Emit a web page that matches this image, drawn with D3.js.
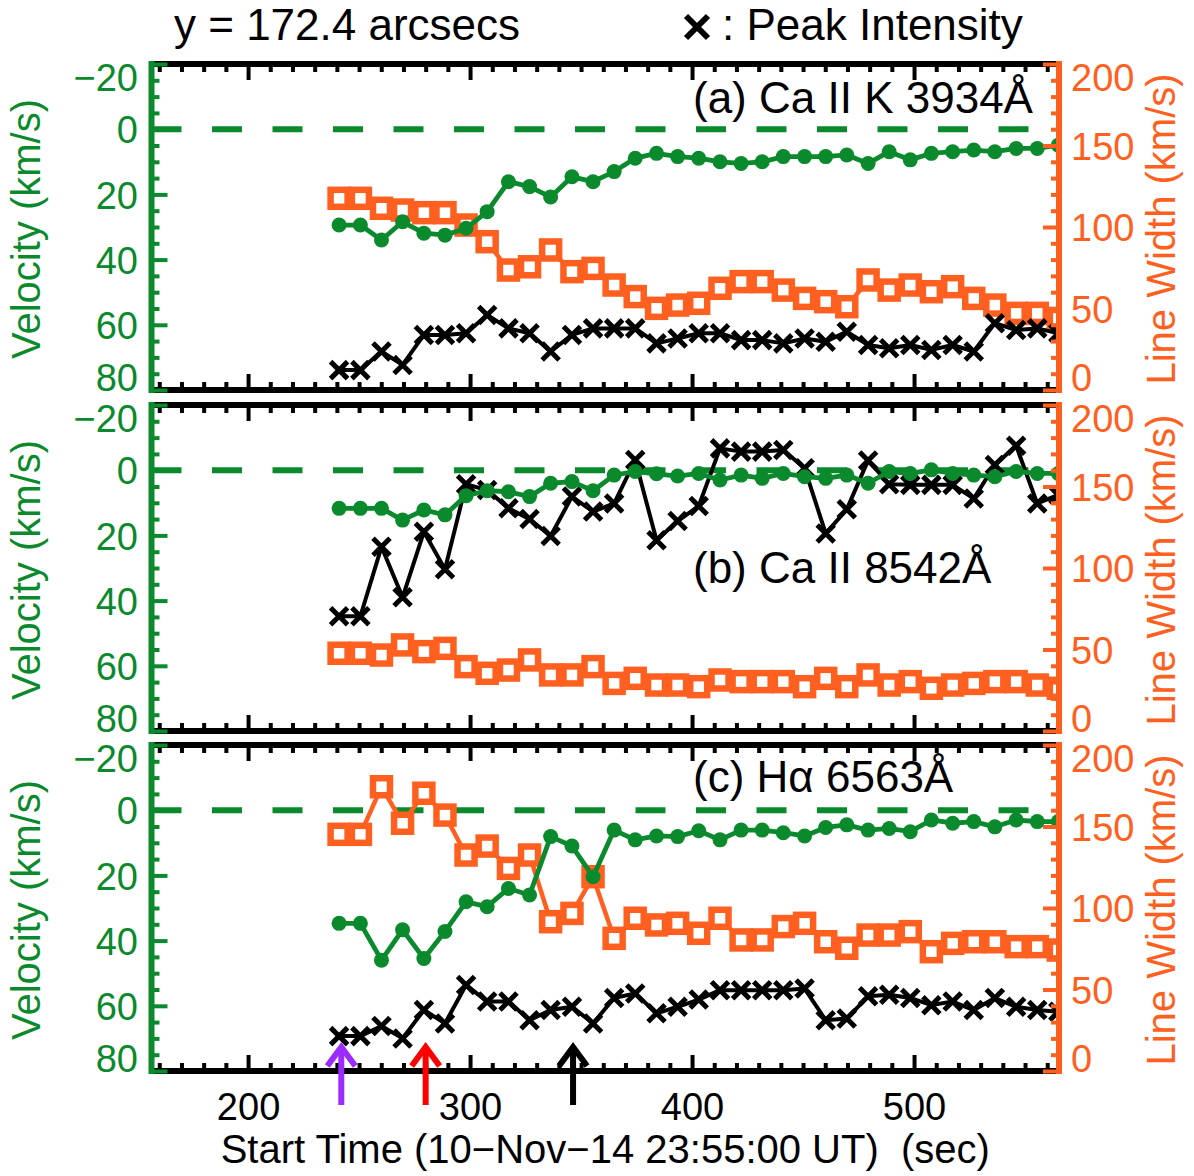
<!DOCTYPE html>
<html>
<head>
<meta charset="utf-8">
<script src="https://cdn.jsdelivr.net/npm/d3@7"></script>
<style>
  html, body { margin: 0; padding: 0; background: #fff; }
  svg { display: block; font-family: "Liberation Sans", Arial, Helvetica, sans-serif; }
</style>
</head>
<body>
<svg id="fig" width="1194" height="1176"></svg>
<script>
// Observation times (s after 10-Nov-14 23:55:00 UT)
const times = [241.0, 250.6, 260.1, 269.6, 279.2, 288.7, 298.2, 307.7, 317.3, 326.8,
               336.3, 345.9, 355.4, 364.9, 374.4, 384.0, 393.5, 403.0, 412.6, 422.1,
               431.6, 441.1, 450.7, 460.2, 469.7, 479.3, 488.8, 498.3, 507.8, 517.4,
               526.9, 536.4, 546.0, 555.5, 565.0];

// (a) Ca II K 3934
const velA   = [29.4, 29.4, 34.0, 28.4, 31.9, 32.5, 30.4, 25.3, 16.1, 17.6, 20.8, 14.6, 16.1, 13.0, 8.9, 7.4, 8.4, 8.9, 10.0, 10.5,
                10.0, 8.4, 8.4, 8.4, 7.9, 10.5, 6.9, 9.4, 7.4, 6.9, 6.4, 6.9, 5.9, 5.9, 4.9];
const widthA = [117.6, 117.6, 111.5, 110.4, 108.8, 108.8, 101.2, 91.0, 73.6, 75.6, 85.9, 72.6, 74.6, 64.4, 57.3, 50.1, 52.1, 53.2, 62.4, 66.5,
                66.5, 61.3, 56.2, 54.2, 51.1, 67.5, 61.3, 64.4, 60.3, 63.4, 56.2, 52.1, 47.0, 47.0, 43.9];
// peak intensity, normalised onto the velocity frame of each panel
const peakA  = [73.9, 73.9, 68.2, 72.3, 63.1, 63.1, 62.6, 57.0, 61.1, 62.6, 68.2, 63.1, 61.1, 61.1, 61.1, 65.7, 64.2, 62.6, 62.6, 64.7,
                64.7, 65.7, 64.2, 65.2, 62.1, 66.2, 67.2, 66.2, 67.7, 66.2, 68.2, 59.5, 61.6, 61.1, 62.6];

// (b) Ca II 8542
const velB   = [11.7, 11.7, 11.7, 15.3, 12.2, 13.7, 7.8, 6.3, 6.6, 8.1, 4.0, 3.5, 6.3, 1.5, 0.4, 1.1, 1.8, 1.0, 3.0, 1.5,
                2.5, 1.0, 2.0, 2.5, 1.5, 4.0, 0.4, 1.0, -0.1, 1.0, 1.5, 2.0, 0.4, 1.0, 1.0];
const widthB = [47.7, 47.7, 46.6, 52.8, 48.7, 50.7, 39.5, 35.4, 37.4, 43.6, 34.4, 34.4, 39.5, 29.2, 32.3, 28.2, 28.2, 27.2, 31.3, 30.3,
                30.3, 30.3, 27.2, 32.3, 27.2, 34.4, 28.2, 30.3, 26.2, 28.2, 29.2, 30.3, 30.3, 28.2, 26.2];
const peakB  = [44.8, 44.8, 23.5, 39.0, 18.9, 30.4, 4.3, 6.1, 11.7, 15.0, 20.2, 8.1, 12.7, 10.2, -3.1, 21.5, 15.6, 11.0, -6.7, -5.7,
                -5.7, -6.2, -0.6, 19.4, 12.0, -3.0, 4.3, 4.5, 4.5, 4.5, 8.7, -1.6, -7.5, 10.2, 7.6];

// (c) H-alpha 6563
const velC   = [34.7, 34.7, 46.0, 36.7, 45.5, 37.2, 28.1, 29.6, 24.0, 26.0, 8.1, 11.0, 20.4, 6.1, 9.1, 7.9, 8.1, 6.3, 9.1, 6.1,
                6.1, 6.9, 7.9, 5.3, 4.5, 6.1, 5.6, 6.6, 3.0, 4.0, 3.5, 5.1, 3.0, 3.5, 3.5];
const widthC = [145.2, 145.2, 174.4, 152.0, 170.4, 157.0, 132.5, 138.0, 124.3, 132.5, 91.6, 96.7, 119.2, 81.4, 93.7, 89.6, 90.6, 84.5, 93.7, 80.4,
                80.4, 88.6, 90.6, 79.3, 75.3, 83.4, 83.4, 85.5, 73.2, 78.3, 79.3, 79.3, 76.3, 76.3, 74.2];
const peakC  = [69.3, 69.3, 66.2, 70.0, 61.3, 65.4, 53.6, 58.7, 58.7, 64.4, 61.3, 60.3, 65.4, 57.6, 56.2, 62.3, 60.3, 58.1, 55.2, 55.2,
                55.2, 55.2, 54.7, 64.4, 63.9, 57.1, 56.6, 57.6, 59.8, 58.7, 61.3, 57.6, 60.3, 61.3, 61.8];

const panelLabels = ["(a) Ca II K 3934Å", "(b) Ca II 8542Å", "(c) Hα 6563Å"];

// Axis ticks
const xTicks = [200, 300, 400, 500];
const velTicks = [-20, 0, 20, 40, 60, 80];
const widthTicks = [0, 50, 100, 150, 200];

// Marked instants in panel (c)
const arrowTimes = [242, 280, 346.4];
const arrowColors = ["#9b2cff", "#ff0000", "#000000"];

// ---------------------------------------------------------------------------
const GREEN = "#0a8a2c", ORANGE = "#ff6020";
const plotLeft = 151.5, plotRight = 1059;
const panelTops = [64, 405, 745], panelH = 326;
const AXW = 6, TICKW = 4;

const svg = d3.select("#fig");
const x = d3.scaleLinear().domain([156.5, 565.3]).range([plotLeft, plotRight]);

const panels = [
  { vel: velA, width: widthA, peak: peakA },
  { vel: velB, width: widthB, peak: peakB },
  { vel: velC, width: widthC, peak: peakC }
];

const xMinor = d3.range(160, 561, 10).filter(v => v % 100 !== 0);
const velMinor = d3.range(-15, 80, 5).filter(v => v % 20 !== 0);
const widthMinor = d3.range(10, 200, 10).filter(v => v % 50 !== 0);

const minus = d => (d < 0 ? "\u2212" + Math.abs(d) : String(d));
const crossPath = (cx, cy, s) =>
  `M${cx - s},${cy - s}L${cx + s},${cy + s}M${cx - s},${cy + s}L${cx + s},${cy - s}`;

function styleTicks(sel, color) {
  sel.select(".domain").remove();
  sel.selectAll(".tick line").attr("stroke", color).attr("stroke-width", TICKW);
}

panels.forEach((p, i) => {
  const top = panelTops[i], bottom = top + panelH;
  const yV = d3.scaleLinear().domain([-20, 80]).range([top, bottom]);
  const yW = d3.scaleLinear().domain([0, 200]).range([bottom, top]);
  const g = svg.append("g");

  const clipId = "clip" + i;
  svg.append("clipPath").attr("id", clipId)
    .append("rect").attr("x", plotLeft).attr("y", top)
    .attr("width", plotRight - plotLeft).attr("height", panelH);

  // zero-velocity reference
  g.append("line")
    .attr("x1", plotLeft).attr("x2", plotRight)
    .attr("y1", yV(0)).attr("y2", yV(0))
    .attr("stroke", GREEN).attr("stroke-width", 6)
    .attr("stroke-dasharray", "30 30.5");

  // panel label
  g.append("text")
    .attr("x", 693).attr("y", [113, 583, 792][i])
    .attr("font-size", 44).attr("fill", "#000")
    .text(panelLabels[i]);

  const data = g.append("g").attr("clip-path", `url(#${clipId})`);

  // line width (orange squares)
  const wPts = times.map((t, k) => [x(t), yW(p.width[k])]);
  data.append("path").attr("d", d3.line()(wPts))
    .attr("fill", "none").attr("stroke", ORANGE).attr("stroke-width", 4.5)
    .attr("stroke-linejoin", "round");
  data.selectAll("rect.sq").data(wPts).join("rect").attr("class", "sq")
    .attr("x", d => d[0] - 8.5).attr("y", d => d[1] - 8.5)
    .attr("width", 17).attr("height", 17)
    .attr("fill", "#fff").attr("stroke", ORANGE).attr("stroke-width", 6.5);

  // peak intensity (black crosses)
  const pPts = times.map((t, k) => [x(t), yV(p.peak[k])]);
  data.append("path").attr("d", d3.line()(pPts))
    .attr("fill", "none").attr("stroke", "#000").attr("stroke-width", 4)
    .attr("stroke-linejoin", "round");
  data.selectAll("path.cr").data(pPts).join("path").attr("class", "cr")
    .attr("d", d => crossPath(d[0], d[1], 8.5))
    .attr("stroke", "#000").attr("stroke-width", 5).attr("fill", "none");

  // Doppler velocity (green dots)
  const vPts = times.map((t, k) => [x(t), yV(p.vel[k])]);
  data.append("path").attr("d", d3.line()(vPts))
    .attr("fill", "none").attr("stroke", GREEN).attr("stroke-width", 4.8)
    .attr("stroke-linejoin", "round");
  data.selectAll("circle").data(vPts).join("circle")
    .attr("cx", d => d[0]).attr("cy", d => d[1]).attr("r", 7.5)
    .attr("fill", GREEN);

  // --- frame: top & bottom time axes ---
  [top, bottom].forEach((yy, j) => {
    const gen = j === 0 ? d3.axisBottom : d3.axisTop;
    const major = g.append("g").attr("transform", `translate(0,${yy})`)
      .call(gen(x).tickValues(xTicks).tickSize(16).tickFormat(""));
    styleTicks(major, "#000");
    const minor = g.append("g").attr("transform", `translate(0,${yy})`)
      .call(gen(x).tickValues(xMinor).tickSize(8).tickFormat(""));
    styleTicks(minor, "#000");
    g.append("line").attr("x1", plotLeft).attr("x2", plotRight)
      .attr("y1", yy).attr("y2", yy)
      .attr("stroke", "#000").attr("stroke-width", AXW);
  });

  // --- left velocity axis ---
  const lMinor = g.append("g").attr("transform", `translate(${plotLeft},0)`)
    .call(d3.axisLeft(yV).tickValues(velMinor).tickSizeInner(-8).tickSizeOuter(0).tickFormat(""));
  styleTicks(lMinor, GREEN);
  const lMajor = g.append("g").attr("transform", `translate(${plotLeft},0)`)
    .call(d3.axisLeft(yV).tickValues(velTicks).tickSizeInner(-16).tickSizeOuter(0)
      .tickPadding(13.5).tickFormat(minus));
  styleTicks(lMajor, GREEN);
  lMajor.selectAll("text")
    .attr("fill", GREEN).attr("font-size", 38).attr("font-family", null)
    .attr("dy", "0.36em")
    .attr("y", d => (d === -20 ? 13 : d === 80 ? -13 : 0));
  g.append("line").attr("x1", plotLeft).attr("x2", plotLeft)
    .attr("y1", top - 3).attr("y2", bottom + 3)
    .attr("stroke", GREEN).attr("stroke-width", AXW);

  // --- right line-width axis ---
  const rMinor = g.append("g").attr("transform", `translate(${plotRight},0)`)
    .call(d3.axisRight(yW).tickValues(widthMinor).tickSizeInner(-8).tickSizeOuter(0).tickFormat(""));
  styleTicks(rMinor, ORANGE);
  const rMajor = g.append("g").attr("transform", `translate(${plotRight},0)`)
    .call(d3.axisRight(yW).tickValues(widthTicks).tickSizeInner(-16).tickSizeOuter(0).tickPadding(12));
  styleTicks(rMajor, ORANGE);
  rMajor.selectAll("text")
    .attr("fill", ORANGE).attr("font-size", 38).attr("font-family", null)
    .attr("dy", "0.36em")
    .attr("y", d => (d === 200 ? 13 : d === 0 ? -13 : 0));
  g.append("line").attr("x1", plotRight).attr("x2", plotRight)
    .attr("y1", top - 3).attr("y2", bottom + 3)
    .attr("stroke", ORANGE).attr("stroke-width", AXW);

  // axis titles
  const cy = (top + bottom) / 2 + 2;
  g.append("text").attr("transform", `translate(40,${cy}) rotate(-90)`)
    .attr("text-anchor", "middle").attr("font-size", 40).attr("fill", GREEN)
    .text("Velocity (km/s)");
  g.append("text").attr("transform", `translate(1175,${cy}) rotate(-90)`)
    .attr("text-anchor", "middle").attr("font-size", 40).attr("fill", ORANGE)
    .text("Line Width (km/s)");

  // time labels under the last panel
  if (i === panels.length - 1) {
    const lab = g.append("g").attr("transform", `translate(0,${bottom})`)
      .call(d3.axisBottom(x).tickValues(xTicks).tickSize(0));
    lab.select(".domain").remove();
    lab.selectAll("text").attr("y", 49).attr("dy", null)
      .attr("font-size", 38).attr("font-family", null).attr("fill", "#000");

    // arrows marking selected instants
    arrowTimes.forEach((t, k) => {
      const ax = x(t);
      g.append("line").attr("x1", ax).attr("x2", ax).attr("y1", 1105).attr("y2", 1047)
        .attr("stroke", arrowColors[k]).attr("stroke-width", 6);
      g.append("path").attr("d", `M${ax - 14},${1066}L${ax},${1047}L${ax + 14},${1066}`)
        .attr("fill", "none").attr("stroke", arrowColors[k]).attr("stroke-width", 6)
        .attr("stroke-linejoin", "miter");
    });
  }
});

// x-axis title
svg.append("text").attr("x", (plotLeft + plotRight) / 2).attr("y", 1163)
  .attr("text-anchor", "middle").attr("font-size", 40).style("white-space", "pre")
  .text("Start Time (10\u2212Nov\u221214 23:55:00 UT)  (sec)");

// header
svg.append("text").attr("x", 174).attr("y", 40).attr("font-size", 44)
  .text("y = 172.4 arcsecs");
svg.append("path").attr("d", crossPath(697, 27, 11))
  .attr("stroke", "#000").attr("stroke-width", 6);
svg.append("text").attr("x", 722).attr("y", 40).attr("font-size", 44)
  .text(": Peak Intensity");
</script>
</body>
</html>
